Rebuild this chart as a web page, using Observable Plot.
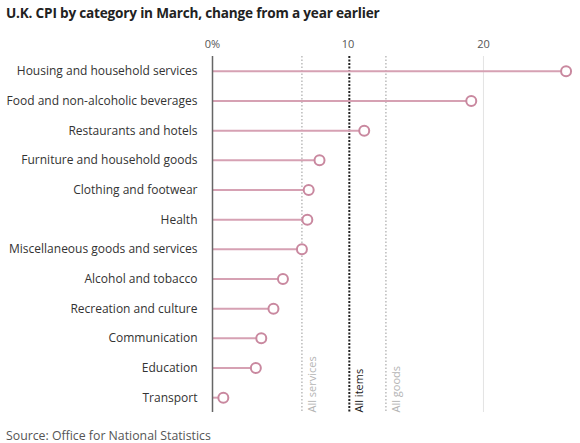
<!DOCTYPE html>
<html>
<head>
<meta charset="utf-8">
<script src="https://cdn.jsdelivr.net/npm/d3@7"></script>
<script src="https://cdn.jsdelivr.net/npm/@observablehq/plot@0.6"></script>
<style>
  body { margin: 0; background: #fff; width: 580px; height: 443px; overflow: hidden; font-family: "Open Sans", Lato, sans-serif; }
  #title { position: absolute; left: 6px; top: 3px; font-size: 13.6px; font-weight: bold; color: #222; letter-spacing: -0.2px; }
  #chart { position: absolute; left: 0; top: 24px; }
  #caption { position: absolute; left: 6px; top: 427px; font-size: 12.3px; color: #555; }
</style>
</head>
<body>
<div id="title">U.K. CPI by category in March, change from a year earlier</div>
<div id="chart"></div>
<div id="caption">Source: Office for National Statistics</div>
<script>
const categories = [
  "Housing and household services",
  "Food and non-alcoholic beverages",
  "Restaurants and hotels",
  "Furniture and household goods",
  "Clothing and footwear",
  "Health",
  "Miscellaneous goods and services",
  "Alcohol and tobacco",
  "Recreation and culture",
  "Communication",
  "Education",
  "Transport"
];
const values = [26.1, 19.1, 11.2, 7.9, 7.1, 7.0, 6.6, 5.2, 4.5, 3.6, 3.2, 0.8];
const refNames = ["All services", "All items", "All goods"];
const refValues = [6.6, 10.1, 12.8];
const tickValues = [0, 10, 20];

const data = categories.map((c, i) => ({category: c, value: values[i]}));
const refs = refNames.map((n, i) => ({name: n, value: refValues[i]}));

const pink = "#d6a1b3";
const pinkDark = "#c9889f";

const chart = Plot.plot({
  width: 580,
  height: 396,
  marginLeft: 212,
  marginRight: 9,
  marginTop: 32,
  marginBottom: 8,
  style: {fontFamily: "'Open Sans', Lato, sans-serif", background: "#fff"},
  x: {domain: [0, 26.5]},
  y: {type: "point", domain: categories, padding: 0.5, round: false},
  marks: [
    Plot.ruleX([20], {stroke: "#e3e3e3", strokeWidth: 1}),
    Plot.ruleX(refs.filter(d => d.name !== "All items"), {x: "value", stroke: "#bbb", strokeWidth: 1.5, strokeDasharray: "1.5,2"}),
    Plot.ruleX(refs.filter(d => d.name === "All items"), {x: "value", stroke: "#222", strokeWidth: 2, strokeDasharray: "2,1.5"}),
    Plot.text(refs, {
      x: "value", frameAnchor: "bottom", rotate: -90, text: "name",
      textAnchor: "start", dx: 14, dy: 0, fontSize: 11,
      fill: d => d.name === "All items" ? "#222" : "#b5b5b5"
    }),
    Plot.ruleY(data, {y: "category", x1: 0, x2: "value", stroke: pink, strokeWidth: 2}),
    Plot.ruleX([0], {stroke: "#666", strokeWidth: 1.5}),
    Plot.dot(data, {y: "category", x: "value", r: 5, stroke: pinkDark, strokeWidth: 2, fill: "#fff"}),
    Plot.axisX({anchor: "top", ticks: tickValues, tickSize: 0, tickPadding: 9, label: null,
      tickFormat: d => d === 0 ? "0%" : String(d), fontSize: 11, color: "#555"}),
    Plot.axisY({tickSize: 0, tickPadding: 15, fontSize: 12, color: "#333", label: null})
  ]
});
document.getElementById("chart").appendChild(chart);
</script>
</body>
</html>
